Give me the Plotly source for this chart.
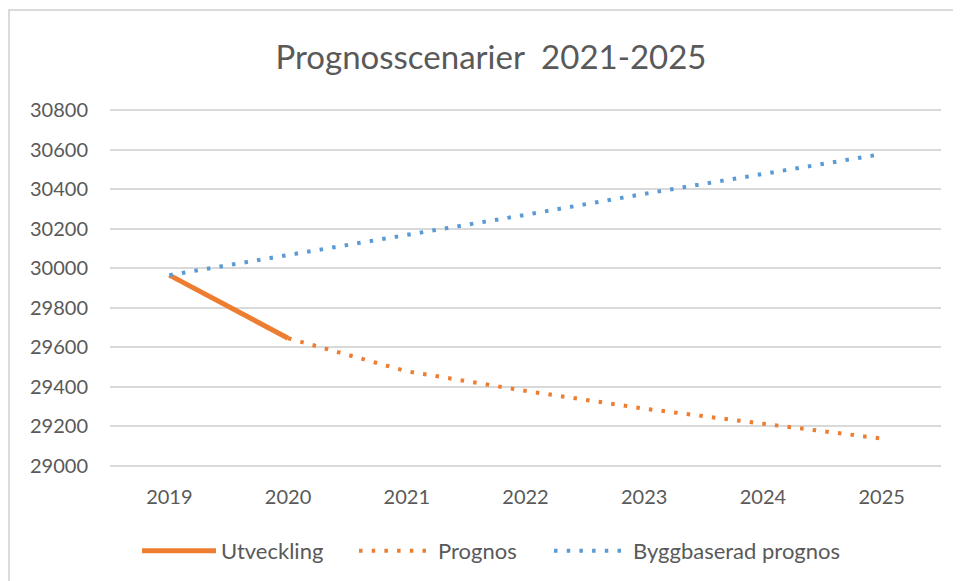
import plotly.graph_objects as go

years = ['2019', '2020', '2021', '2022', '2023', '2024', '2025']
utveckling = [29965, 29646, None, None, None, None, None]
prognos = [None, 29646, 29479, 29380, 29290, 29214, 29139]
byggbaserad = [29965, 30065, 30167, 30270, 30376, 30478, 30577]

orange = '#ED7D31'
blue = '#5B9BD5'
text_col = '#595959'
grid_col = '#D9D9D9'

# the page body has an 8px margin, so figure pixels = screenshot pixels - 8
OFF = 8
W, H = 961, 581
L, R, T, B = 110 - OFF, W - 941 + OFF, 108 - OFF, H - 468 + OFF
pw, ph = W - L - R, H - T - B

def px_x(x):
    return (x - OFF - L) / pw

def px_y(y):
    return (H - B - (y - OFF)) / ph

dots = '3.5px,9.2px'

fig = go.Figure()
fig.add_trace(go.Scatter(x=years, y=utveckling, name='Utveckling', mode='lines',
                         line=dict(color=orange, width=5), legend='legend'))
fig.add_trace(go.Scatter(x=years, y=prognos, name='Prognos', mode='lines',
                         line=dict(color=orange, width=4, dash=dots), legend='legend2'))
fig.add_trace(go.Scatter(x=years, y=byggbaserad, name='Byggbaserad prognos', mode='lines',
                         line=dict(color=blue, width=4, dash=dots), legend='legend3'))

# outer chart border (top/left visible, rest cropped)
fig.add_shape(type='rect', xref='paper', yref='paper',
              x0=px_x(9), x1=px_x(990), y0=px_y(620), y1=px_y(10),
              line=dict(color='#D0D0D0', width=1.5), layer='below')

def leg(sym_x):
    return dict(orientation='h', xref='container', yref='container',
                x=(sym_x - OFF - 6) / W, xanchor='left', y=1 - (551 - OFF) / H,
                yanchor='middle', itemwidth=74, bgcolor='rgba(0,0,0,0)',
                font=dict(family='Lato', size=22, color=text_col))

fig.update_layout(
    width=W, height=H,
    margin=dict(l=L, r=R, t=T, b=B, autoexpand=False),
    paper_bgcolor='white', plot_bgcolor='white',
    title=dict(text='Prognosscenarier  2021-2025', x=(491 - OFF) / W, xref='container',
               xanchor='center', y=1 - (57 - OFF) / H, yref='container', yanchor='middle',
               font=dict(family='Lato', size=33, color=text_col)),
    showlegend=True,
    legend=leg(143),
    legend2=leg(360),
    legend3=leg(555),
    font=dict(family='Lato', color=text_col),
)
fig.update_xaxes(type='category', range=[-0.5, 6.5], showgrid=False, showline=False,
                 zeroline=False, ticklabelstandoff=15,
                 tickfont=dict(family='Lato', size=20, color=text_col))
fig.update_yaxes(range=[28990, 30810], dtick=200, showgrid=True, gridcolor=grid_col,
                 gridwidth=1.5, zeroline=False, showline=False, ticklabelstandoff=21,
                 tickformat='d',
                 tickfont=dict(family='Lato', size=20, color=text_col))

fig.write_html('out.html')
